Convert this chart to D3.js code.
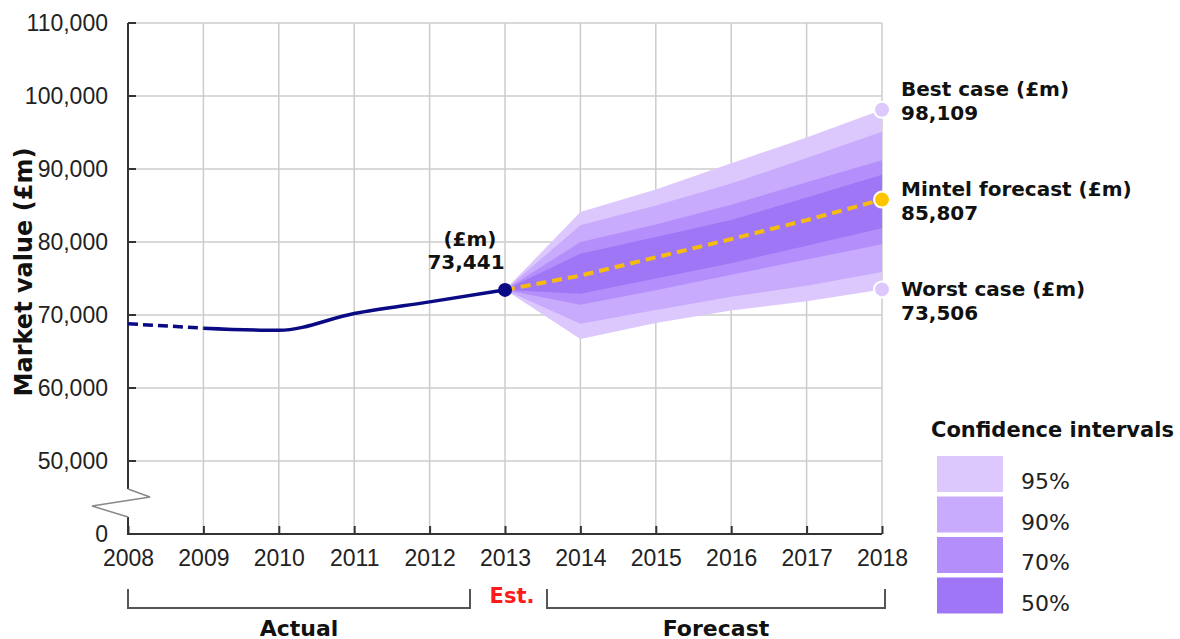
<!DOCTYPE html>
<html>
<head>
<meta charset="utf-8">
<script src="https://cdn.jsdelivr.net/npm/d3@7"></script>
<style>
  body { margin: 0; background: #fff; }
  svg { font-family: "DejaVu Sans", Verdana, sans-serif; }
  .tick text { fill: #222; }
</style>
</head>
<body>
<script>
// data
var years = [2008, 2009, 2010, 2011, 2012, 2013, 2014, 2015, 2016, 2017, 2018];
var actualYears = [2008, 2009, 2010, 2011, 2012, 2013];
var actualValues = [68800, 68200, 67900, 70200, 71800, 73441];

var forecastYears = [2013, 2014, 2015, 2016, 2017, 2018];
var forecastValues = [73441, 75400, 77900, 80400, 83000, 85807];

var upper95 = [73441, 84100, 87200, 90800, 94300, 98109];
var lower95 = [73441, 66700, 68900, 70600, 71900, 73506];
var upper90 = [73441, 82300, 85000, 88000, 91500, 95100];
var lower90 = [73441, 68800, 70700, 72500, 74000, 75900];
var upper70 = [73441, 80000, 82400, 85100, 88200, 91200];
var lower70 = [73441, 71400, 73400, 75500, 77600, 79700];
var upper50 = [73441, 78400, 80700, 83000, 86100, 89200];
var lower50 = [73441, 72900, 75000, 77100, 79500, 81900];

var yTicks = [0, 50000, 60000, 70000, 80000, 90000, 100000, 110000];
var legendLabels = ["95%", "90%", "70%", "50%"];
var bandColors = ["#dcc8fd", "#c8abfc", "#b48ffb", "#9f76f6"];

var svg = d3.select("body").append("svg")
    .attr("width", 1180)
    .attr("height", 639);

var x = d3.scaleLinear().domain([2008, 2018]).range([128, 882]);
// broken axis: 0 -> 50,000 squeezed into one step
var y = d3.scaleLinear().domain([0, 50000, 110000]).range([534, 461, 23]);

// grid
svg.append("g").selectAll("line.h")
    .data(yTicks.slice(1))
    .enter().append("line")
    .attr("x1", x(2008)).attr("x2", x(2018))
    .attr("y1", function(d) { return y(d); })
    .attr("y2", function(d) { return y(d); })
    .attr("stroke", "#cccccc").attr("stroke-width", 1.5);

svg.append("g").selectAll("line.v")
    .data(years.slice(1))
    .enter().append("line")
    .attr("x1", function(d) { return x(d); })
    .attr("x2", function(d) { return x(d); })
    .attr("y1", y(110000)).attr("y2", y(0))
    .attr("stroke", "#cccccc").attr("stroke-width", 1.5);

// fan bands
var bands = [
    { up: upper95, lo: lower95 },
    { up: upper90, lo: lower90 },
    { up: upper70, lo: lower70 },
    { up: upper50, lo: lower50 }
];
var area = d3.area()
    .x(function(d) { return x(d.year); })
    .y0(function(d) { return y(d.lo); })
    .y1(function(d) { return y(d.up); });

bands.forEach(function(b, i) {
    var rows = forecastYears.map(function(yr, j) {
        return { year: yr, up: b.up[j], lo: b.lo[j] };
    });
    svg.append("path")
        .datum(rows)
        .attr("d", area)
        .attr("fill", bandColors[i]);
});

// axes
var yAxis = d3.axisLeft(y)
    .tickValues(yTicks)
    .tickFormat(d3.format(","))
    .tickSize(0)
    .tickPadding(20);
var gy = svg.append("g").attr("transform", "translate(128,0)").call(yAxis);
gy.select(".domain").remove();
gy.selectAll("text").style("font-size", "23px");

var xAxis = d3.axisBottom(x)
    .tickValues(years)
    .tickFormat(d3.format("d"))
    .tickSize(-8)
    .tickPadding(16);
var gx = svg.append("g").attr("transform", "translate(0," + y(0) + ")").call(xAxis);
gx.select(".domain").remove();
gx.selectAll("line").attr("stroke", "#333").attr("stroke-width", 2);
gx.selectAll("text").style("font-size", "23px");

// y ticks pointing inward
svg.append("g").selectAll("line")
    .data(yTicks.slice(1))
    .enter().append("line")
    .attr("x1", x(2008)).attr("x2", x(2008) + 8)
    .attr("y1", function(d) { return y(d); })
    .attr("y2", function(d) { return y(d); })
    .attr("stroke", "#333").attr("stroke-width", 2);

// axis lines with break
svg.append("path")
    .attr("d", "M128," + y(110000) + "V489M128,517V" + y(0) + "H882")
    .attr("fill", "none")
    .attr("stroke", "#333")
    .attr("stroke-width", 2);
svg.append("path")
    .attr("d", "M128,489L150,497L92,506L128,517")
    .attr("fill", "none").attr("stroke", "#888").attr("stroke-width", 1.5);

// forecast line
var line = d3.line()
    .x(function(d) { return x(d[0]); })
    .y(function(d) { return y(d[1]); });
svg.append("path")
    .datum(d3.zip(forecastYears, forecastValues))
    .attr("d", line)
    .attr("fill", "none")
    .attr("stroke", "#f5bb10")
    .attr("stroke-width", 4)
    .attr("stroke-dasharray", "10,6");

// actual line (dashed for the first year)
var smooth = d3.line()
    .x(function(d) { return x(d[0]); })
    .y(function(d) { return y(d[1]); })
    .curve(d3.curveMonotoneX);
var actualPts = d3.zip(actualYears, actualValues);
svg.append("path")
    .datum(actualPts.slice(0, 2))
    .attr("d", smooth)
    .attr("fill", "none")
    .attr("stroke", "#0a0a85")
    .attr("stroke-width", 3.5)
    .attr("stroke-dasharray", "10,5");
svg.append("path")
    .datum(actualPts.slice(1))
    .attr("d", smooth)
    .attr("fill", "none")
    .attr("stroke", "#0a0a85")
    .attr("stroke-width", 3.5);

// dots
svg.append("circle")
    .attr("cx", x(2013)).attr("cy", y(73441)).attr("r", 7)
    .attr("fill", "#0a0a85");

var endDots = [
    { v: upper95[5], c: "#dcc8fd" },
    { v: forecastValues[5], c: "#ffc400" },
    { v: lower95[5], c: "#dcc8fd" }
];
svg.selectAll("circle.end")
    .data(endDots)
    .enter().append("circle")
    .attr("cx", x(2018))
    .attr("cy", function(d) { return y(d.v); })
    .attr("r", 8)
    .attr("fill", function(d) { return d.c; })
    .attr("stroke", "#fff")
    .attr("stroke-width", 2);

// labels
svg.append("text")
    .attr("x", 470).attr("y", 246)
    .attr("text-anchor", "middle")
    .style("font-size", "20px").style("font-weight", "bold")
    .attr("fill", "#111")
    .text("(£m)");
svg.append("text")
    .attr("x", 466).attr("y", 269)
    .attr("text-anchor", "middle")
    .style("font-size", "20px").style("font-weight", "bold")
    .attr("fill", "#111")
    .text("73,441");

var endLabels = [
    { t: "Best case (£m)", v: "98,109", yy: 96 },
    { t: "Mintel forecast (£m)", v: "85,807", yy: 196 },
    { t: "Worst case (£m)", v: "73,506", yy: 296 }
];
endLabels.forEach(function(d) {
    svg.append("text")
        .attr("x", 901).attr("y", d.yy)
        .style("font-size", "20px").style("font-weight", "bold")
        .attr("fill", "#111")
        .text(d.t);
    svg.append("text")
        .attr("x", 901).attr("y", d.yy + 24)
        .style("font-size", "20px").style("font-weight", "bold")
        .attr("fill", "#111")
        .text(d.v);
});

// y axis title
svg.append("text")
    .attr("transform", "translate(32,272) rotate(-90)")
    .attr("text-anchor", "middle")
    .style("font-size", "24px").style("font-weight", "bold")
    .attr("fill", "#111")
    .text("Market value (£m)");

// legend
svg.append("text")
    .attr("x", 931).attr("y", 437)
    .style("font-size", "21px").style("font-weight", "bold")
    .attr("fill", "#111")
    .text("Confidence intervals");

var legend = svg.append("g").selectAll("g")
    .data(legendLabels)
    .enter().append("g")
    .attr("transform", function(d, i) { return "translate(937," + (456 + i * 40.5) + ")"; });
legend.append("rect")
    .attr("width", 66).attr("height", 36)
    .attr("fill", function(d, i) { return bandColors[i]; });
legend.append("text")
    .attr("x", 84).attr("y", 33)
    .style("font-size", "22px")
    .attr("fill", "#222")
    .text(function(d) { return d; });

// brackets under the axis
var brackets = [
    { x0: 128, x1: 470, t: "Actual" },
    { x0: 547, x1: 885, t: "Forecast" }
];
brackets.forEach(function(b) {
    svg.append("path")
        .attr("d", "M" + b.x0 + ",589V608H" + b.x1 + "V589")
        .attr("fill", "none").attr("stroke", "#555").attr("stroke-width", 2);
    svg.append("text")
        .attr("x", (b.x0 + b.x1) / 2).attr("y", 636)
        .attr("text-anchor", "middle")
        .style("font-size", "22px").style("font-weight", "bold")
        .attr("fill", "#111")
        .text(b.t);
});
svg.append("text")
    .attr("x", 512).attr("y", 603)
    .attr("text-anchor", "middle")
    .style("font-size", "21px").style("font-weight", "bold")
    .attr("fill", "#ff1a1a")
    .text("Est.");
</script>
</body>
</html>
